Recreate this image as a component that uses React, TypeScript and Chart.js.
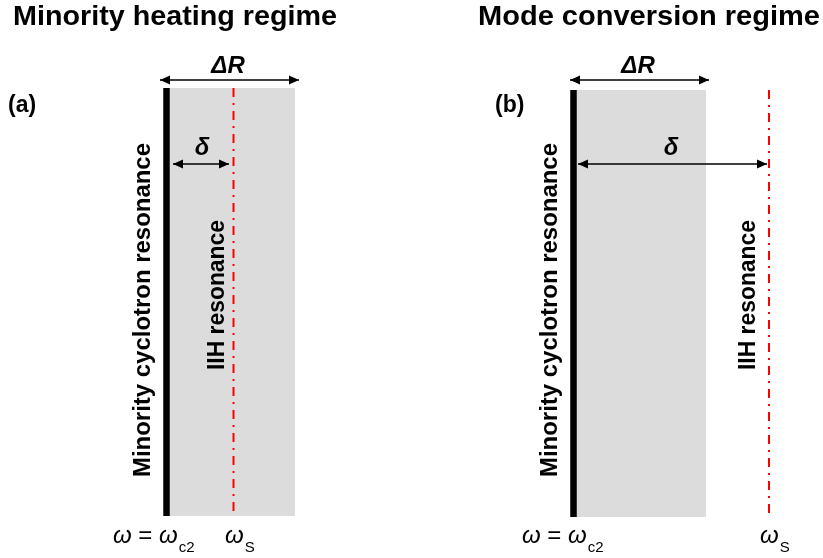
import { useEffect, useRef } from 'react';
import { Chart, registerables } from 'chart.js';

Chart.register(...registerables);

const W = 823;
const H = 558;

// Diagram content (coordinates in diagram units: x → right, y → down)
const panelTitles = ['Minority heating regime', 'Mode conversion regime'];
const panelLetters = ['(a)', '(b)'];
const titleX = [13, 478];
const titleWidth = [324, 342];
const letterX = [8, 495];
const resonanceX = [166.5, 573.5];
const shadeRightX = [295, 706];
const iihX = [233.5, 769];
const columnTop = [88, 90];
const columnBottom = [516, 517];
const deltaRStart = [160, 570];
const deltaREnd = [299, 709];
const deltaStart = [173, 578];
const deltaEnd = [229, 767];
const deltaRArrowY = 80;
const deltaArrowY = 164;
const deltaRLabelX = [228, 638];
const deltaLabelX = [202, 671];
const minorityLabelX = [150, 557];
const minorityLabelSpan = [143, 477];
const iihLabelX = [224, 755];
const iihLabelSpan = [220, 370];
const omegaC2X = [113, 522];
const omegaSX = [225, 760];

const FONT = '"Liberation Sans", Arial, Helvetica, sans-serif';

function buildDatasets() {
  const ds: any[] = [];
  for (let i = 0; i < 2; i++) {
    ds.push({
      label: 'shade' + i,
      data: [
        { x: resonanceX[i], y: columnTop[i] },
        { x: shadeRightX[i], y: columnTop[i] },
        { x: shadeRightX[i], y: columnBottom[i] },
        { x: resonanceX[i], y: columnBottom[i] },
        { x: resonanceX[i], y: columnTop[i] },
      ],
      showLine: true,
      fill: 'shape',
      backgroundColor: '#dcdcdc',
      borderColor: 'rgba(0,0,0,0)',
      borderWidth: 0,
      pointRadius: 0,
      order: 5,
    });
    ds.push({
      label: 'iih' + i,
      data: [
        { x: iihX[i], y: columnTop[i] },
        { x: iihX[i], y: columnBottom[i] },
      ],
      showLine: true,
      borderColor: '#ff0000',
      borderWidth: 2,
      borderDash: [9, 6, 2, 6],
      pointRadius: 0,
      fill: false,
      order: 4,
    });
    ds.push({
      label: 'res' + i,
      data: [
        { x: resonanceX[i], y: columnTop[i] },
        { x: resonanceX[i], y: columnBottom[i] },
      ],
      showLine: true,
      borderColor: '#000000',
      borderWidth: 6.5,
      borderCapStyle: 'butt',
      pointRadius: 0,
      fill: false,
      order: 3,
    });
    ds.push({
      label: 'dR' + i,
      data: [
        { x: deltaRStart[i], y: deltaRArrowY },
        { x: deltaREnd[i], y: deltaRArrowY },
      ],
      showLine: true,
      borderColor: '#000000',
      borderWidth: 1.5,
      pointRadius: 0,
      fill: false,
      order: 2,
    });
    ds.push({
      label: 'd' + i,
      data: [
        { x: deltaStart[i], y: deltaArrowY },
        { x: deltaEnd[i], y: deltaArrowY },
      ],
      showLine: true,
      borderColor: '#000000',
      borderWidth: 1.5,
      pointRadius: 0,
      fill: false,
      order: 1,
    });
  }
  return ds;
}

const overlayPlugin = {
  id: 'overlay',
  afterDatasetsDraw(chart: any) {
    const ctx: CanvasRenderingContext2D = chart.ctx;
    const xs = chart.scales.x;
    const ys = chart.scales.y;
    const px = (v: number) => xs.getPixelForValue(v);
    const py = (v: number) => ys.getPixelForValue(v);

    const arrowHead = (tipX: number, y: number, dir: number) => {
      const len = 10;
      const half = 4.5;
      ctx.beginPath();
      ctx.moveTo(tipX, y);
      ctx.lineTo(tipX - dir * len, y - half);
      ctx.lineTo(tipX - dir * len, y + half);
      ctx.closePath();
      ctx.fill();
    };

    // text stretched along its own direction to a target length
    const fitText = (s: string, len: number) => {
      const w = ctx.measureText(s).width;
      ctx.save();
      ctx.scale(len / w, 1);
      ctx.fillText(s, 0, 0);
      ctx.restore();
    };

    ctx.save();
    ctx.fillStyle = '#000';
    ctx.textBaseline = 'alphabetic';

    for (let i = 0; i < 2; i++) {
      // arrowheads
      arrowHead(px(deltaRStart[i]), py(deltaRArrowY), -1);
      arrowHead(px(deltaREnd[i]), py(deltaRArrowY), 1);
      arrowHead(px(deltaStart[i]), py(deltaArrowY), -1);
      arrowHead(px(deltaEnd[i]), py(deltaArrowY), 1);

      // titles
      ctx.textAlign = 'left';
      ctx.font = `bold 28.5px ${FONT}`;
      ctx.save();
      ctx.translate(px(titleX[i]), py(25));
      fitText(panelTitles[i], px(titleX[i] + titleWidth[i]) - px(titleX[i]));
      ctx.restore();

      // panel letters
      ctx.font = `bold 23px ${FONT}`;
      ctx.fillText(panelLetters[i], px(letterX[i]), py(112));

      // ΔR and δ
      ctx.textAlign = 'center';
      ctx.font = `italic bold 24px ${FONT}`;
      ctx.fillText('ΔR', px(deltaRLabelX[i]), py(73));
      ctx.fillText('δ', px(deltaLabelX[i]), py(155));

      // vertical labels
      ctx.textAlign = 'center';
      ctx.save();
      ctx.translate(px(minorityLabelX[i]), py((minorityLabelSpan[0] + minorityLabelSpan[1]) / 2));
      ctx.rotate(-Math.PI / 2);
      ctx.font = `bold 23.5px ${FONT}`;
      fitText('Minority cyclotron resonance', Math.abs(py(minorityLabelSpan[1]) - py(minorityLabelSpan[0])));
      ctx.restore();

      ctx.save();
      ctx.translate(px(iihLabelX[i]), py((iihLabelSpan[0] + iihLabelSpan[1]) / 2));
      ctx.rotate(-Math.PI / 2);
      ctx.font = `bold 23px ${FONT}`;
      fitText('IIH resonance', Math.abs(py(iihLabelSpan[1]) - py(iihLabelSpan[0])));
      ctx.restore();

      // bottom labels
      ctx.textAlign = 'left';
      let x = px(omegaC2X[i]);
      const base = py(543);
      ctx.font = `italic 24px ${FONT}`;
      ctx.fillText('ω', x, base);
      x += ctx.measureText('ω').width;
      ctx.font = `24px ${FONT}`;
      ctx.fillText(' = ', x, base);
      x += ctx.measureText(' = ').width;
      ctx.font = `italic 24px ${FONT}`;
      ctx.fillText('ω', x, base);
      x += ctx.measureText('ω').width + 1;
      ctx.font = `15px ${FONT}`;
      ctx.fillText('c2', x, base + 9);

      let xs2 = px(omegaSX[i]);
      ctx.font = `italic 24px ${FONT}`;
      ctx.fillText('ω', xs2, base);
      xs2 += ctx.measureText('ω').width + 1;
      ctx.font = `15px ${FONT}`;
      ctx.fillText('S', xs2, base + 9);
    }
    ctx.restore();
  },
};

export default function App() {
  const canvasRef = useRef<HTMLCanvasElement | null>(null);

  useEffect(() => {
    const canvas = canvasRef.current;
    if (!canvas) return;
    const chart = new Chart(canvas, {
      type: 'scatter',
      data: { datasets: buildDatasets() },
      options: {
        responsive: false,
        maintainAspectRatio: false,
        animation: false,
        devicePixelRatio: 1,
        layout: { padding: 0 },
        scales: {
          x: { type: 'linear', min: 0, max: W, display: false },
          y: { type: 'linear', min: 0, max: H, reverse: true, display: false },
        },
        plugins: {
          legend: { display: false },
          tooltip: { enabled: false },
        },
        elements: { point: { radius: 0 } },
      } as any,
      plugins: [overlayPlugin],
    });
    return () => chart.destroy();
  }, []);

  return (
    <div style={{ position: 'fixed', left: 0, top: 0, width: W, height: H, background: '#fff' }}>
      <canvas ref={canvasRef} width={W} height={H} style={{ display: 'block', width: W, height: H }} />
    </div>
  );
}
